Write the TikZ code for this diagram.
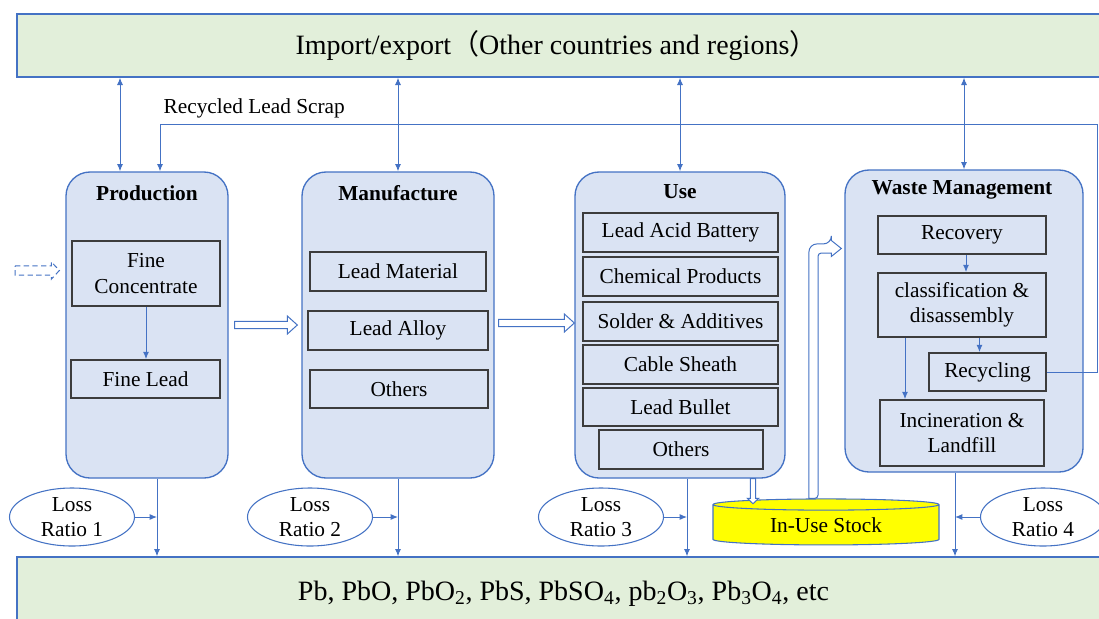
\documentclass[tikz,border=0pt]{standalone}
\usepackage{fontspec}
\setmainfont{Liberation Serif}
\newfontfamily\cjkfont{Noto Sans CJK SC}
\usetikzlibrary{arrows.meta,shapes.geometric,calc}
\definecolor{bl}{RGB}{68,114,196}
\definecolor{boxfill}{RGB}{218,227,243}
\definecolor{greenfill}{RGB}{226,239,218}
\definecolor{itemline}{RGB}{60,60,60}
\definecolor{stockfill}{RGB}{255,255,0}
\begin{document}
\begin{tikzpicture}[x=0.75pt,y=-0.75pt,
  sz/.style 2 args={minimum width=#1*0.75pt, minimum height=#2*0.75pt},
  bar/.style={draw=bl, fill=greenfill, line width=1pt, font=\fontsize{21}{25}\selectfont, inner sep=0pt},
  stage/.style={draw=bl, fill=boxfill, line width=1pt, rounded corners=18pt},
  title/.style={font=\fontsize{16}{19}\selectfont\bfseries, inner sep=1pt},
  item/.style={draw=itemline, fill=boxfill, line width=1.3pt, font=\fontsize{16}{19}\selectfont, align=center, inner sep=1pt},
  loss/.style={ellipse, draw=bl, fill=white, line width=0.8pt, font=\fontsize{16}{19}\selectfont, align=center, inner sep=0pt},
  arr/.style={draw=bl, line width=0.75pt, -{Latex[length=5.5pt,width=4.5pt]}},
  darr/.style={draw=bl, line width=0.75pt, {Latex[length=5.5pt,width=4.5pt]}-{Latex[length=5.5pt,width=4.5pt]}},
  hollowline/.style={draw=bl, fill=white, line width=0.75pt, line join=miter},
  lbl/.style={font=\fontsize{16}{19}\selectfont, inner sep=1pt}
]
\useasboundingbox (0,0) rectangle (1099,618);
\fill[white] (0,0) rectangle (1099,618);

% bars
\node[bar, sz={1093}{63}] (imp) at (563.5,45.5) {\hspace*{-10.5pt}Import/export{\cjkfont （}Other countries and regions{\cjkfont ）}};
\node[bar, sz={1093}{73}] (out) at (563.5,593.5) {Pb, PbO, PbO\textsubscript{2}, PbS, PbSO\textsubscript{4}, pb\textsubscript{2}O\textsubscript{3}, Pb\textsubscript{3}O\textsubscript{4}, etc};

% stages
\node[stage, sz={162}{306}] (prod) at (147,325) {};
\node[stage, sz={192}{306}] (man) at (398,325) {};
\node[stage, sz={210}{306}] (use) at (680,325) {};
\node[stage, sz={238}{302}] (waste) at (964,321) {};

\node[title] (prodt) at (147,193) {Production};
\node[title] (mant) at (398,193) {Manufacture};
\node[title] (uset) at (680,192) {Use};
\node[title] (wastet) at (962,190) {Waste Management};

% items
\node[item, sz={148}{65}] (fc) at (146,273.5) {Fine\\Concentrate};
\node[item, sz={149}{38}] (fl) at (145.5,379) {Fine Lead};

\node[item, sz={176}{39}] (lm) at (398,271.5) {Lead Material};
\node[item, sz={180}{39}] (la) at (398,330.5) {Lead Alloy};
\node[item, sz={178}{38}] (mo) at (399,389) {Others};

\node[item, sz={195}{39}] (lab) at (680.5,232.5) {Lead Acid Battery};
\node[item, sz={195}{39}] (cp) at (680.5,276.5) {Chemical Products};
\node[item, sz={195}{39}] (sa) at (680.5,321.5) {Solder \& Additives};
\node[item, sz={195}{39}] (cs) at (680.5,364.5) {Cable Sheath};
\node[item, sz={195}{38}] (lb) at (680.5,407) {Lead Bullet};
\node[item, sz={164}{39}] (uo) at (681,449.5) {Others};

\node[item, sz={168}{38}] (rec) at (962,235) {Recovery};
\node[item, sz={168}{64}] (cd) at (962,305) {classification \&\\disassembly};
\node[item, sz={117}{38}] (ry) at (987.5,372) {Recycling};
\node[item, sz={164}{66}] (il) at (962,433) {Incineration \&\\Landfill};

% in-use stock
\node[cylinder, shape border rotate=90, aspect=0.1, draw=bl, fill=stockfill, line width=0.8pt,
      sz={226}{46}, font=\fontsize{16}{19}\selectfont, inner sep=0pt] (stock) at (826,525) {In-Use Stock};

% loss ellipses
\node[loss, sz={125}{58}] (l1) at (72,517) {Loss\\Ratio 1};
\node[loss, sz={125}{58}] (l2) at (310,517) {Loss\\Ratio 2};
\node[loss, sz={125}{58}] (l3) at (601,517) {Loss\\Ratio 3};
\node[loss, sz={125}{58}] (l4) at (1043,517) {Loss\\Ratio 4};

% import/export connectors
\draw[darr] ([xshift=-20.25pt]prod.north) -- ([xshift=-20.25pt]prod.north |- imp.south);
\draw[darr] (man.north) -- (man.north |- imp.south);
\draw[darr] (use.north) -- (use.north |- imp.south);
\draw[darr] (waste.north) -- (waste.north |- imp.south);

% recycled lead scrap
\coordinate (rc) at (1097,124);
\draw[arr] (ry.east) -| (rc) -| ([xshift=9.75pt]prod.north);
\node[lbl, anchor=west] (rls) at (162,108) {Recycled Lead Scrap};

% inner arrows
\draw[arr] (fc.south) -- (fc.south |- fl.north);
\draw[arr] ([xshift=3pt]rec.south) -- ([xshift=3pt]cd.north);
\draw[arr] ([xshift=-6pt]ry.north |- cd.south) -- ([xshift=-6pt]ry.north);
\draw[arr] ([xshift=-42.75pt]cd.south) -- ([xshift=-42.75pt]cd.south |- il.north);

% loss lines
\coordinate (p1) at ([xshift=7.5pt]prod.south);
\coordinate (m1) at (man.south);
\coordinate (u1) at ([xshift=5.25pt]use.south);
\coordinate (w1) at ([xshift=-6.75pt]waste.south);
\draw[arr] (p1) -- (p1 |- out.north);
\draw[arr] (m1) -- (m1 |- out.north);
\draw[arr] (u1) -- (u1 |- out.north);
\draw[arr] (w1) -- (w1 |- out.north);
\draw[arr] (l1.east) -- (l1.east -| p1);
\draw[arr] (l2.east) -- (l2.east -| m1);
\draw[arr] (l3.east) -- (l3.east -| u1);
\draw[arr] (l4.west) -- (l4.west -| w1);

% hollow flow arrows
\coordinate (src) at (15,270.5);
\draw[hollowline, fill=none, dashed, dash pattern=on 4pt off 2.5pt]
  let \p1=(src), \p2=([xshift=-4.5pt]prod.west |- src) in
  (\x1,\y1+3.4pt) -- (\x2-6pt,\y1+3.4pt) -- (\x2-6pt,\y1+6.5pt) -- (\x2,\y1)
  -- (\x2-6pt,\y1-6.5pt) -- (\x2-6pt,\y1-3.4pt) -- (\x1,\y1-3.4pt) -- cycle;
\draw[hollowline]
  let \p1=([xshift=4.5pt]prod.east), \p2=([xshift=-3pt]man.west) in
  (\x1,\y1+2.8pt) -- (\x2-7.5pt,\y1+2.8pt) -- (\x2-7.5pt,\y1+6.75pt) -- (\x2,\y1)
  -- (\x2-7.5pt,\y1-6.75pt) -- (\x2-7.5pt,\y1-2.8pt) -- (\x1,\y1-2.8pt) -- cycle;
\draw[hollowline]
  let \p1=([xshift=3pt,yshift=1.5pt]man.east), \p2=([yshift=1.5pt]use.west) in
  (\x1,\y1+2.8pt) -- (\x2-7.5pt,\y1+2.8pt) -- (\x2-7.5pt,\y1+6.75pt) -- (\x2,\y1)
  -- (\x2-7.5pt,\y1-6.75pt) -- (\x2-7.5pt,\y1-2.8pt) -- (\x1,\y1-2.8pt) -- cycle;
\draw[hollowline]
  let \p1=([xshift=54.75pt]use.south), \p2=([yshift=-4pt]stock.north) in
  (\x1-1.9pt,\y1) -- (\x1-1.9pt,\y2+4pt) -- (\x1-4.2pt,\y2+4pt) -- (\x1,\y2)
  -- (\x1+4.2pt,\y2+4pt) -- (\x1+1.9pt,\y2+4pt) -- (\x1+1.9pt,\y1) -- cycle;
\draw[hollowline]
  let \p1=([xshift=-9.4pt]stock.north), \p2=([xshift=-2.25pt,yshift=54.4pt]waste.west) in
  (\x1-3.4pt,\y1) [rounded corners=6pt] -- (\x1-3.4pt,\y2+3.4pt) -- (\x2-7.5pt,\y2+3.4pt)
  [sharp corners] -- (\x2-7.5pt,\y2+6pt) -- (\x2,\y2) -- (\x2-7.5pt,\y2-6pt) -- (\x2-7.5pt,\y2-3.4pt)
  [rounded corners=2.5pt] -- (\x1+3.4pt,\y2-3.4pt) -- (\x1+3.4pt,\y1) [sharp corners] -- cycle;
\end{tikzpicture}
\end{document}
